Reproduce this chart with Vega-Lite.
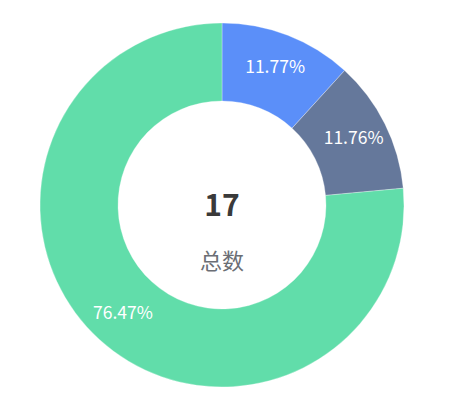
{
  "$schema": "https://vega.github.io/schema/vega-lite/v6.json",
  "width": 444,
  "height": 410,
  "padding": 0,
  "autosize": "none",
  "background": "white",
  "view": {"stroke": null},
  "data": {
    "values": [
      {"type": "A", "count": 2, "pct": "11.77%", "idx": 1},
      {"type": "B", "count": 2, "pct": "11.76%", "idx": 2},
      {"type": "C", "count": 13, "pct": "76.47%", "idx": 3}
    ]
  },
  "encoding": {
    "theta": {"field": "count", "type": "quantitative", "stack": true},
    "order": {"field": "idx", "type": "quantitative"},
    "color": {
      "field": "type",
      "type": "nominal",
      "scale": {"domain": ["A", "B", "C"], "range": ["#5B8FF9", "#65789B", "#61DDAA"]},
      "legend": null
    }
  },
  "layer": [
    {
      "mark": {"type": "arc", "innerRadius": 104, "outerRadius": 182, "stroke": "white", "strokeWidth": 0.3}
    },
    {
      "mark": {"type": "text", "radius": 147, "fontSize": 17.5, "font": "Noto Sans CJK SC", "fontWeight": "normal", "color": "white"},
      "encoding": {
        "text": {"field": "pct", "type": "nominal"},
        "color": {"value": "white"}
      }
    },
    {
      "transform": [{"aggregate": [{"op": "sum", "field": "count", "as": "total"}]}],
      "mark": {"type": "text", "fontSize": 30, "fontWeight": "bold", "font": "Noto Sans CJK SC", "color": "#3a3a3a", "dy": 2},
      "encoding": {
        "theta": null,
        "order": null,
        "color": null,
        "text": {"field": "total", "type": "quantitative"}
      }
    },
    {
      "data": {"values": [{"label": "总数"}]},
      "mark": {"type": "text", "fontSize": 22, "font": "Noto Sans CJK SC", "color": "#6b6e75", "dy": 57},
      "encoding": {
        "theta": null,
        "order": null,
        "color": null,
        "text": {"field": "label", "type": "nominal"}
      }
    }
  ]
}
